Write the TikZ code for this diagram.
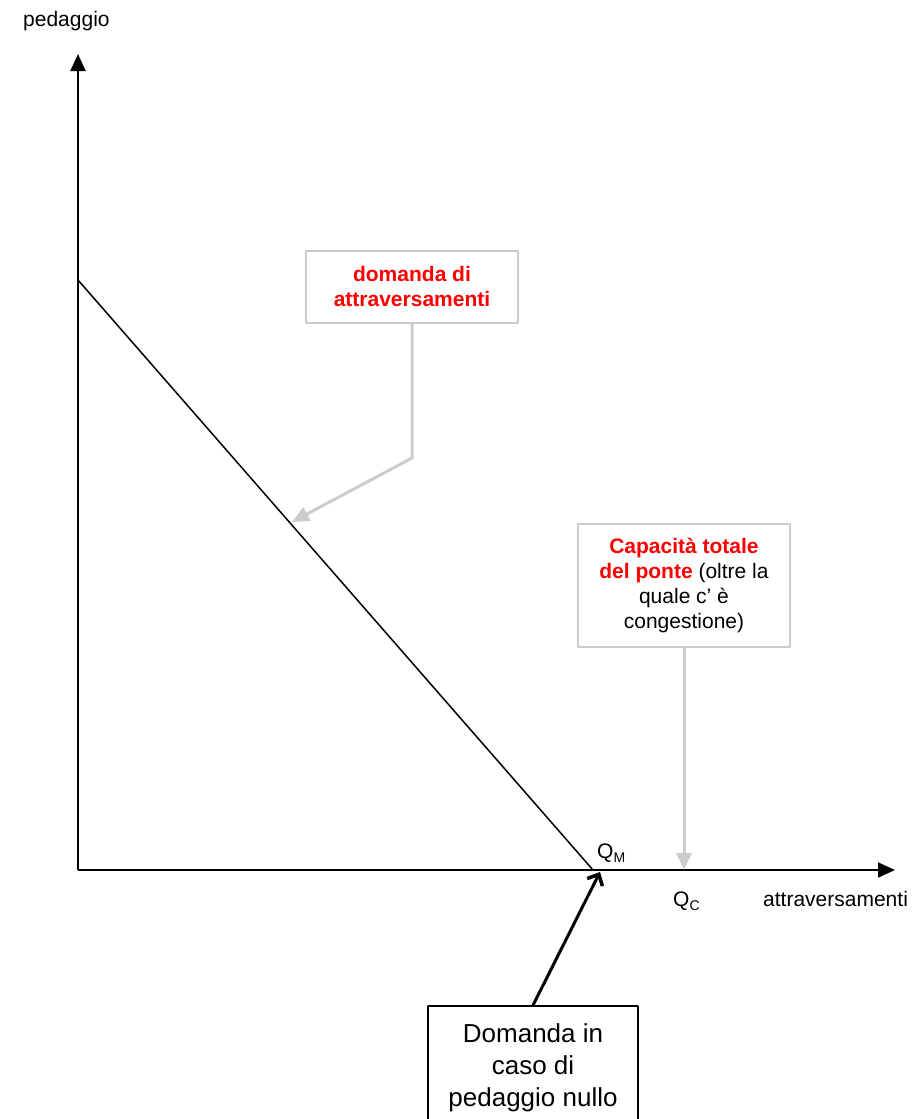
\documentclass[tikz,border=0pt]{standalone}
\usepackage{fontspec}
\setmainfont{Liberation Sans}
\usetikzlibrary{arrows.meta}
\definecolor{callgray}{RGB}{204,204,204}
\definecolor{hired}{RGB}{255,0,0}

\begin{document}
\begin{tikzpicture}[x=1pt, y=-1pt, line join = round,
    lbl/.style={font=\fontsize{21}{25}\selectfont, inner sep=0pt},
    callbox/.style={draw=callgray, line width=2pt, fill=white, align=center,
        font=\fontsize{21}{25}\selectfont},
    callarrow/.style={draw=callgray, line width=3pt, -{Triangle[length=17pt,width=15pt]}},
    axisarrow/.style={line width=2pt, -{Triangle[length=17pt,width=15pt]}}]
    \useasboundingbox (0,0) rectangle (923,1119);
    \clip (0,0) rectangle (923,1119);

    \coordinate (O) at (78,870);
    \coordinate (ytop) at (78,54);
    \coordinate (xend) at (895,870);
    \coordinate (A) at (78,280);
    \coordinate (QM) at (593,870);
    \coordinate (QC) at (684,870);
    \coordinate (kink) at (412,458);
    \coordinate (dtip) at (292,522);

    % axes
    \draw[axisarrow] (O) -- (ytop);
    \draw[axisarrow] (O) -- (xend);
    \node[lbl, anchor=base west] (ylab) at (23,26) {pedaggio};
    \node[lbl, anchor=base west] (xlab) at (763,906) {attraversamenti};

    % demand curve
    \draw[line width=1.5pt] (A) -- (QM);
    \node[lbl, anchor=base west] (qm) at (597,858) {Q\raisebox{-4pt}{\fontsize{14}{14}\selectfont M}};
    \node[lbl, anchor=base west] (qc) at (673,906) {Q\raisebox{-4pt}{\fontsize{14}{14}\selectfont C}};

    % callouts
    \node[callbox, minimum width=212, minimum height=72] (dem) at (412,286.5)
        {\color{hired}\bfseries domanda di\\\color{hired}\bfseries attraversamenti};
    \draw[callarrow] (dem.south) -- (kink) -- (dtip);

    \node[callbox, minimum width=212, minimum height=123] (cap) at (684,585)
        {\color{hired}\bfseries Capacità totale\\{\color{hired}\bfseries del ponte} (oltre la\\quale c’ è\\congestione)};
    \draw[callarrow] (cap.south) -- (QC);

    \node[draw, line width=1.5pt, fill=white, align=center, minimum width=210, minimum height=124,
        font=\fontsize{26}{32}\selectfont] (zero) at (533,1068)
        {Domanda in\\caso di\\pedaggio nullo};
    \draw[line width=3pt, -{Straight Barb[length=9pt,width=17pt,line width=3.5pt]}] (zero.north) -- (600,872);
\end{tikzpicture}
\end{document}
